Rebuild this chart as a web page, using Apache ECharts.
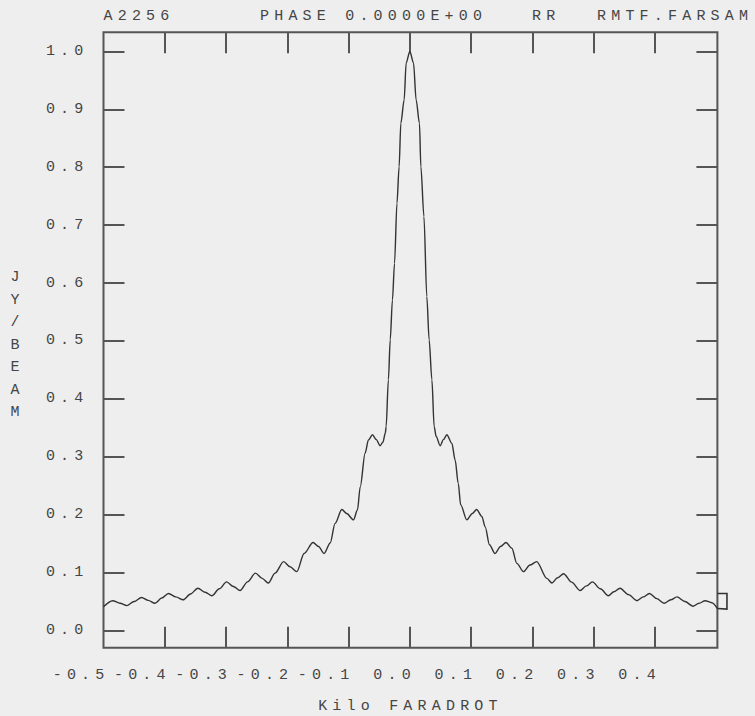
<!DOCTYPE html>
<html><head><meta charset="utf-8">
<script src="https://cdn.jsdelivr.net/npm/echarts@6/dist/echarts.min.js"></script>
<style>
html,body{margin:0;padding:0;background:#eeeeee;}
#c{width:755px;height:716px;}
#c svg text{letter-spacing:5.2px;}
</style></head><body><div id="c"></div>
<script>
// Faraday depth (kilo rad/m^2)
const rm = [
  -0.500,-0.485,-0.473,-0.462,-0.450,-0.438,-0.427,-0.416,-0.405,-0.394,
  -0.382,-0.370,-0.358,-0.346,-0.334,-0.323,-0.311,-0.299,-0.288,-0.277,
  -0.265,-0.252,-0.241,-0.231,-0.220,-0.206,-0.1955,-0.1845,-0.1726,-0.158,
  -0.149,-0.140,-0.130,-0.122,-0.111,-0.103,-0.092,-0.0855,-0.081,-0.073,
  -0.0676,-0.061,-0.055,-0.0485,-0.044,-0.040,-0.0387,-0.035,-0.032,-0.0284,
  -0.025,-0.021,-0.0175,-0.0147,-0.0093,-0.006,0.000,0.006,0.0103,0.0157,
  0.018,0.023,0.0277,0.0315,0.036,0.0397,0.043,0.0495,0.055,0.0604,
  0.0686,0.074,0.079,0.083,0.093,0.102,0.109,0.1175,0.123,0.130,
  0.139,0.148,0.157,0.1665,0.1747,0.1855,0.196,0.207,0.2237,0.232,
  0.241,0.251,0.264,0.278,0.288,0.298,0.311,0.324,0.333,0.343,
  0.357,0.3707,0.381,0.391,0.403,0.415,0.426,0.436,0.449,0.462,
  0.472,0.482,0.493,0.502
];
// Amplitude (JY/BEAM)
const jy = [
  0.041,0.0515,0.047,0.043,0.050,0.057,0.052,0.047,0.056,0.064,
  0.058,0.053,0.063,0.073,0.066,0.060,0.072,0.084,0.076,0.069,
  0.084,0.099,0.090,0.082,0.099,0.119,0.110,0.1016,0.133,0.152,
  0.145,0.133,0.151,0.185,0.209,0.202,0.191,0.208,0.248,0.306,
  0.329,0.338,0.330,0.319,0.325,0.341,0.352,0.433,0.502,0.571,
  0.634,0.738,0.801,0.876,0.916,0.980,1.000,0.980,0.916,0.876,
  0.801,0.715,0.577,0.502,0.433,0.352,0.335,0.319,0.330,0.338,
  0.323,0.294,0.254,0.217,0.191,0.202,0.209,0.197,0.179,0.148,
  0.133,0.145,0.152,0.142,0.116,0.1016,0.113,0.119,0.090,0.082,
  0.091,0.098,0.0835,0.069,0.077,0.084,0.072,0.060,0.067,0.073,
  0.062,0.0515,0.058,0.064,0.055,0.047,0.053,0.058,0.050,0.042,
  0.047,0.0515,0.048,0.038
];
// trace continuing past the right frame edge
const edgeRm = [0.502, 0.5176, 0.5176, 0.502];
const edgeJy = [0.038, 0.037, 0.064, 0.064];

const xTicks = [-0.4,-0.3,-0.2,-0.1,0.0,0.1,0.2,0.3,0.4];
const xLabels = [-0.5,-0.4,-0.3,-0.2,-0.1,0.0,0.1,0.2,0.3,0.4];
const yTicks = [0.0,0.1,0.2,0.3,0.4,0.5,0.6,0.7,0.8,0.9,1.0];
const titleParts = ['A2256','PHASE 0.0000E+00','RR','RMTF.FARSAM'];
const xName = 'Kilo FARADROT';
const yName = 'JY/BEAM';

const FONT = '"Liberation Mono", "DejaVu Sans Mono", monospace';
const TXT = '#454545';
const FRAME = '#555555';
const X_MIN = -0.5, X_MAX = 0.502, Y_MIN = -0.0297, Y_MAX = 1.033;
const G = {left:103.5, right:37.6, top:32.3, bottom:68.3};
const plotW = 755 - G.left - G.right;
const labelShiftPx = 6;
const dX = labelShiftPx / plotW * (X_MAX - X_MIN);

const chart = echarts.init(document.getElementById('c'), null, {renderer:'svg'});
const tickStyle = {show:true, inside:true, length:21, lineStyle:{color:FRAME, width:2}};
const noLine = {show:false, onZero:false};
const fmt = v => v.toFixed(1);
const titleLefts = [103.5, 260, 532, 597];

chart.setOption({
  animation:false,
  backgroundColor:'#eeeeee',
  title: titleParts.map((t,i)=>({
    text:t, left:titleLefts[i], top:9, padding:0,
    textStyle:{fontFamily:FONT, fontSize:15, fontWeight:'normal', color:TXT}
  })),
  graphic:[{
    type:'text', x:17.5, y:266.5, silent:true,
    style:{text:yName.split('').join('\n'), align:'center', verticalAlign:'top',
           font:'15px ' + FONT, lineHeight:22.5, fill:TXT}
  }],
  grid:{left:G.left, right:G.right, top:G.top, bottom:G.bottom, show:true,
        outerBoundsMode:'none', containLabel:false,
        borderColor:FRAME, borderWidth:2, backgroundColor:'transparent'},
  xAxis:[
    {type:'value', min:X_MIN, max:X_MAX, position:'bottom',
     axisLine:noLine, splitLine:{show:false},
     axisTick:Object.assign({customValues:xTicks}, tickStyle),
     axisLabel:{show:false},
     name:xName, nameLocation:'middle', nameGap:51,
     nameTextStyle:{fontFamily:FONT, fontSize:15, color:TXT}},
    {type:'value', min:X_MIN, max:X_MAX, position:'top',
     axisLine:noLine, splitLine:{show:false},
     axisTick:Object.assign({customValues:xTicks}, tickStyle),
     axisLabel:{show:false}},
    {type:'value', min:X_MIN - dX, max:X_MAX - dX, position:'bottom',
     axisLine:noLine, splitLine:{show:false}, axisTick:{show:false},
     axisLabel:{customValues:xLabels, formatter:fmt, align:'right', margin:20,
       fontFamily:FONT, fontSize:15, color:TXT}}
  ],
  yAxis:[
    {type:'value', min:Y_MIN, max:Y_MAX, position:'left',
     axisLine:noLine, splitLine:{show:false},
     axisTick:Object.assign({customValues:yTicks}, tickStyle),
     axisLabel:{customValues:yTicks, formatter:fmt, margin:15, padding:[4,0,0,0],
       fontFamily:FONT, fontSize:15, color:TXT}},
    {type:'value', min:Y_MIN, max:Y_MAX, position:'right',
     axisLine:noLine, splitLine:{show:false},
     axisTick:Object.assign({customValues:yTicks}, tickStyle),
     axisLabel:{show:false}}
  ],
  series:[
    {type:'line', xAxisIndex:0, yAxisIndex:0, showSymbol:false, smooth:0.3,
     smoothMonotone:'x', clip:false,
     lineStyle:{color:'#333333', width:1.4},
     data: rm.map((x,i)=>[x, jy[i]])},
    {type:'custom', xAxisIndex:0, yAxisIndex:0, clip:false, silent:true,
     data: [0],
     renderItem: function(params, api){
       const pts = edgeRm.map((x,i)=>api.coord([x, edgeJy[i]]));
       return {type:'polyline', shape:{points:pts},
               style:{stroke:'#333333', lineWidth:1.6, fill:null}};
     }}
  ]
});
</script></body></html>
